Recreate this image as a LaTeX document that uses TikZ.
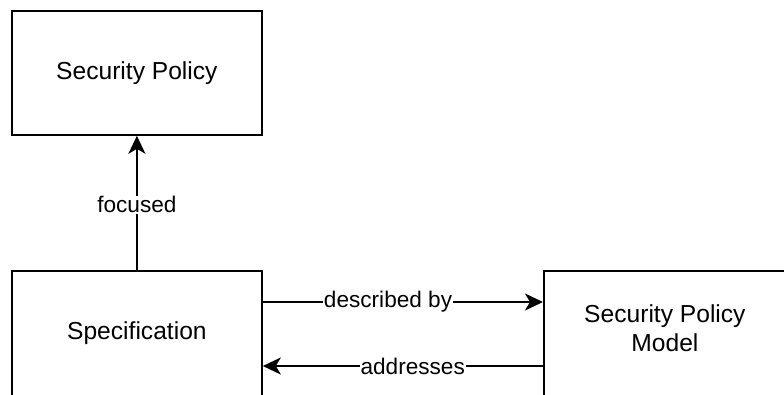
\documentclass[tikz,border=0pt]{standalone}
\usepackage{fontspec}
\setmainfont{Liberation Sans}
\usetikzlibrary{arrows.meta,calc}
% lift a label inside its box without changing the box size
\newcommand{\liftby}[2]{\raisebox{#1}[\height][\depth]{#2}}
\begin{document}
\begin{tikzpicture}[x=1pt,y=-1pt,
  box/.style={draw=black, line width=1.8pt, fill=white, minimum width=250pt,
    minimum height=124pt, inner sep=0pt, anchor=north west, align=center,
    font=\fontsize{24.6}{29.5}\selectfont},
  tallbox/.style={box, minimum height=136pt},
  link/.style={draw=black, line width=1.8pt,
    -{Stealth[length=18pt,width=17pt,inset=5pt]}},
  lbl/.style={fill=white, inner sep=1pt, font=\fontsize{22.6}{27}\selectfont}]
  \useasboundingbox (0,0) rectangle (784,394);
  % boxes (the lower two run past the bottom edge)
  \node[box] (policy) at (11,10) {Security Policy};
  \node[tallbox] (spec) at (11,270) {\liftby{6pt}{Specification}};
  \node[tallbox, minimum width=242pt] (model) at (543,270)
    {\liftby{8pt}{\begin{tabular}{@{}c@{}}Security Policy\\Model\end{tabular}}};
  % connectors
  \draw[link] (spec.north) -- node[lbl, pos=0.485] {focused} (policy.south);
  \draw[link] ($(spec.north east)+(0,32)$) coordinate (a)
     -- node[lbl, pos=0.447] {described by} (a -| model.west);
  \draw[link] ($(model.north west)+(0,96)$) coordinate (b)
     -- node[lbl, pos=0.465] {addresses} (b -| spec.east);
\end{tikzpicture}
\end{document}
